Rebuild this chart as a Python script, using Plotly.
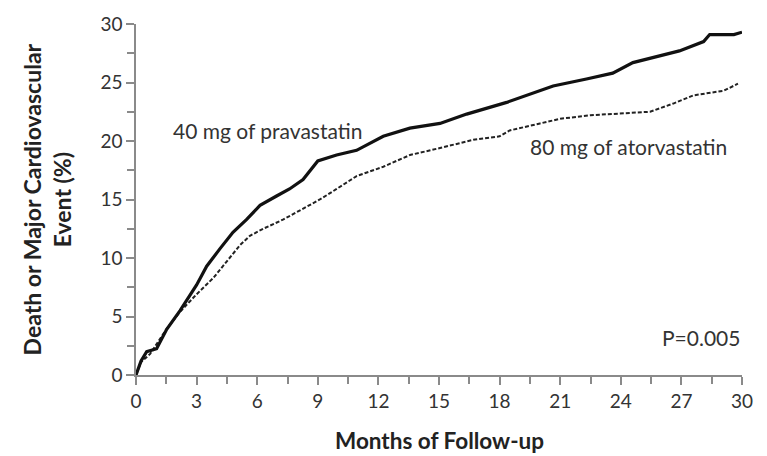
import plotly.graph_objects as go

# Cumulative incidence (%) by month of follow-up
prava_months = [0, 0.25, 0.53, 1.02, 1.52, 2.18, 3.0, 3.5, 4.16, 4.8, 5.48, 6.14, 6.96, 7.6,
                8.27, 8.7, 9.0, 9.93, 10.92, 12.24, 13.56, 15.05, 16.37, 18.35, 20.65,
                22.3, 23.6, 24.6, 26.9, 28.1, 28.4, 29.6, 30.0]
prava_pct = [0, 1.2, 2.0, 2.25, 3.9, 5.5, 7.7, 9.3, 10.8, 12.2, 13.3, 14.5, 15.3, 15.9,
             16.7, 17.7, 18.3, 18.8, 19.2, 20.4, 21.1, 21.5, 22.3, 23.3, 24.7,
             25.3, 25.8, 26.7, 27.7, 28.5, 29.1, 29.1, 29.3]

atorva_months = [0, 0.25, 0.7, 1.5, 2.18, 3.0, 3.83, 4.65, 5.15, 5.64, 6.3, 7.3, 8.27, 9.1,
                 9.93, 10.92, 12.24, 13.56, 15.05, 16.7, 18.0, 18.5, 20.0, 21.0, 22.5,
                 25.45, 26.6, 27.6, 29.1, 29.8]
atorva_pct = [0, 1.1, 1.8, 3.9, 5.4, 6.9, 8.3, 10.0, 11.1, 11.9, 12.5, 13.3, 14.2, 15.0,
              15.9, 17.0, 17.8, 18.8, 19.4, 20.1, 20.4, 20.9, 21.5, 21.9, 22.2,
              22.5, 23.2, 23.9, 24.3, 24.9]

x_ticks = list(range(0, 31, 3))
y_ticks = list(range(0, 31, 5))

FONT = "Lato"
AXIS_GRAY = "#8a8a8a"
TEXT = "#333333"

fig = go.Figure()
fig.add_trace(go.Scatter(x=atorva_months, y=atorva_pct, mode="lines",
                         line=dict(color="#222", width=2, dash="4px,2px"),
                         name="80 mg of atorvastatin", showlegend=False))
fig.add_trace(go.Scatter(x=prava_months, y=prava_pct, mode="lines",
                         line=dict(color="#111", width=3.2),
                         name="40 mg of pravastatin", showlegend=False))

fig.add_annotation(x=1.75, y=20.9, text="40 mg of pravastatin", showarrow=False,
                   xanchor="left", yanchor="middle", font=dict(family=FONT, size=21, color=TEXT))
fig.add_annotation(x=19.4, y=19.5, text="80 mg of atorvastatin", showarrow=False,
                   xanchor="left", yanchor="middle", font=dict(family=FONT, size=21, color=TEXT))
fig.add_annotation(x=30, y=3.2, text="P=0.005", showarrow=False,
                   xanchor="right", yanchor="middle", font=dict(family=FONT, size=21, color=TEXT))

# Axis titles
fig.add_annotation(xref="paper", yref="paper", x=0.5, y=-0.188, xanchor="center", yanchor="middle",
                   text="<b>Months of Follow-up</b>", showarrow=False,
                   font=dict(family=FONT, size=22.5, color="#222"))
fig.add_annotation(xref="paper", yref="paper", x=-0.147, y=0.5, xanchor="center", yanchor="middle",
                   text="<b>Death or Major Cardiovascular<br>Event (%)</b>", showarrow=False,
                   textangle=-90, font=dict(family=FONT, size=23, color="#222"))

fig.update_xaxes(range=[0, 30], tickvals=x_ticks, ticks="outside", ticklen=8, tickwidth=1.5,
                 tickcolor=AXIS_GRAY, showline=True, linecolor=AXIS_GRAY, linewidth=1.5,
                 showgrid=False, zeroline=False,
                 tickfont=dict(family=FONT, size=19, color=TEXT),
                 minor=dict(tickvals=[1.5 + 3 * i for i in range(10)], ticks="outside",
                            ticklen=7, tickwidth=1.5, tickcolor=AXIS_GRAY))
fig.update_yaxes(range=[0, 30], tickvals=y_ticks, ticks="outside", ticklen=8, tickwidth=1.5,
                 tickcolor=AXIS_GRAY, showline=True, linecolor=AXIS_GRAY, linewidth=1.5,
                 showgrid=False, zeroline=False,
                 tickfont=dict(family=FONT, size=19, color=TEXT),
                 minor=dict(tickvals=[2.5 + 5 * i for i in range(6)], ticks="outside",
                            ticklen=7, tickwidth=1.5, tickcolor=AXIS_GRAY))

fig.update_layout(width=767, height=456, margin=dict(l=136, r=25, t=19, b=81),
                  plot_bgcolor="white", paper_bgcolor="white")

fig.write_html("out.html")
